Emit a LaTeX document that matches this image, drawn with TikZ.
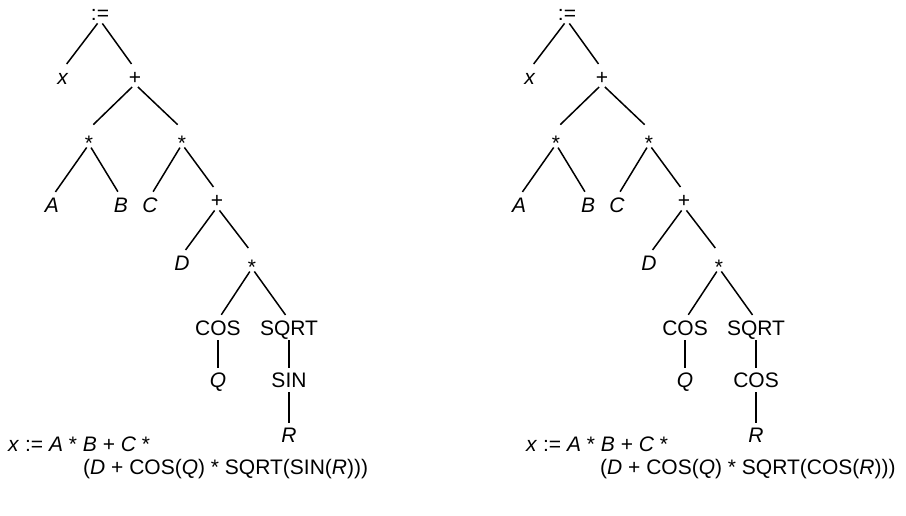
\documentclass[tikz,border=0pt]{standalone}
\usepackage{fontspec}
\setmainfont{Liberation Sans}
\newcommand{\stx}{\raisebox{-6pt}{*}}
\newcommand{\mytree}[2]{%
  \node[lbl] (#1asg) at (100,20) {:=};
  \node[lbl] (#1x) at (63,84) {\textit{x}};
  \node[lbl] (#1p1) at (135,84) {+};
  \node[lbl] (#1s1) at (89,144) {\stx};
  \node[lbl] (#1s2) at (182,144) {\stx};
  \node[lbl] (#1A) at (52,212) {\textit{A}};
  \node[lbl] (#1B) at (121,212) {\textit{B}};
  \node[lbl] (#1C) at (150,212) {\textit{C}};
  \node[lbl] (#1p2) at (217,207) {+};
  \node[lbl] (#1D) at (182,270) {\textit{D}};
  \node[lbl] (#1s3) at (252,268) {\stx};
  \node[lbl] (#1cos) at (218,335) {COS};
  \node[lbl] (#1sqrt) at (289,335) {SQRT};
  \node[lbl] (#1Q) at (218,387) {\textit{Q}};
  \node[lbl] (#1fn) at (289,387) {#2};
  \node[lbl] (#1R) at (289,442) {\textit{R}};
  \draw[edge] (#1asg.south) -- (#1x.north);
  \draw[edge] (#1asg.south) -- (#1p1.north);
  \draw[edge] (#1p1.south) -- (#1s1.north);
  \draw[edge] (#1p1.south) -- (#1s2.north);
  \draw[edge] (#1s1.south) -- (#1A.north);
  \draw[edge] (#1s1.south) -- (#1B.north);
  \draw[edge] (#1s2.south) -- (#1C.north);
  \draw[edge] (#1s2.south) -- (#1p2.north);
  \draw[edge] (#1p2.south) -- (#1D.north);
  \draw[edge] (#1p2.south) -- (#1s3.north);
  \draw[edge] (#1s3.south) -- (#1cos.north);
  \draw[edge] (#1s3.south) -- (#1sqrt.north);
  \draw[vedge] (#1cos.south) -- (#1Q.north);
  \draw[vedge] (#1sqrt.south) -- (#1fn.north);
  \draw[vedge] (#1fn.south) -- (#1R.north);
}
\begin{document}
\begin{tikzpicture}[x=1pt,y=-1pt,
  every node/.style={font=\fontsize{21}{25}\selectfont},
  lbl/.style={anchor=base, inner sep=0pt, text height=15pt, text depth=0pt},
  edge/.style={line width=1.5pt, shorten <=4pt, shorten >=6pt},
  vedge/.style={line width=1.5pt, shorten <=5pt, shorten >=4pt},
  eq/.style={anchor=base west, inner sep=0pt}]
\useasboundingbox (0,0) rectangle (906,515);
\begin{scope}
\mytree{L}{SIN}
\end{scope}
\begin{scope}[xshift=467pt]
\mytree{M}{COS}
\end{scope}
\node[eq] (eqL1) at (8,451) {\textit{x} := \textit{A} * \textit{B} + \textit{C} *};
\node[eq] (eqL2) at (83,474) {(\textit{D} + COS(\textit{Q}) * SQRT(SIN(\textit{R})))};
\node[eq] (eqM1) at (526,451) {\textit{x} := \textit{A} * \textit{B} + \textit{C} *};
\node[eq] (eqM2) at (600,474) {(\textit{D} + COS(\textit{Q}) * SQRT(COS(\textit{R})))};
\end{tikzpicture}
\end{document}
